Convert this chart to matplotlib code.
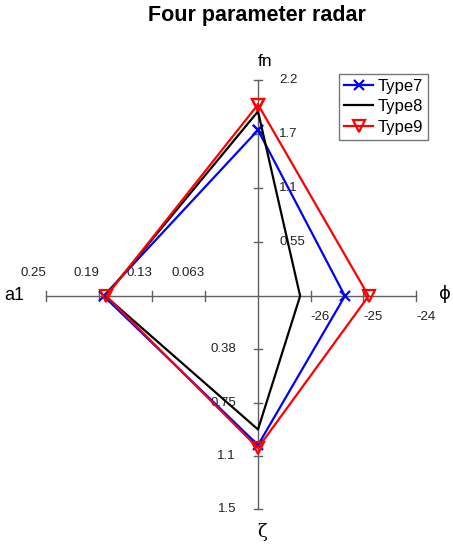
import numpy as np
import matplotlib
matplotlib.use("Agg")
import matplotlib.pyplot as plt

plt.rcParams["font.family"] = ["Liberation Sans", "DejaVu Sans"]

# axis names (up, right, down, left) and their scales
axis_names = ["fn", "\u03d5", "\u03b6", "a1"]
axis_min = [0.0, -27.0, 0.0, 0.0]
axis_max = [2.2, -24.0, 1.5, 0.25]
tick_vals = [[0.55, 1.1, 1.65, 2.2], [-26, -25, -24], [0.375, 0.75, 1.125, 1.5],
             [0.0625, 0.125, 0.1875, 0.25]]
tick_text = [["0.55", "1.1", "1.7", "2.2"], ["-26", "-25", "-24"],
             ["0.38", "0.75", "1.1", "1.5"], ["0.063", "0.13", "0.19", "0.25"]]

series = ["Type7", "Type8", "Type9"]
fn_vals = [1.69, 1.88, 1.95]
phi_vals = [-25.35, -26.2, -24.9]
zeta_vals = [1.05, 0.94, 1.07]
a1_vals = [0.182, 0.180, 0.179]

colors = ["#0000ff", "#000000", "#ff0000"]
markers = ["x", None, "v"]

# layout (pixel units)
W, H = 453, 550
cx, cy = 258, 296
axis_len = [216, 158, 213, 212]
dirs = [(0, -1), (1, 0), (0, 1), (-1, 0)]

fig = plt.figure(figsize=(W / 100, H / 100), dpi=100)
ax = fig.add_axes([0, 0, 1, 1])
ax.set_xlim(0, W)
ax.set_ylim(H, 0)
ax.axis("off")


def to_xy(k, v):
    f = (v - axis_min[k]) / (axis_max[k] - axis_min[k]) * axis_len[k]
    return cx + dirs[k][0] * f, cy + dirs[k][1] * f


axis_col = "#606060"
for k in range(4):
    ex, ey = to_xy(k, axis_max[k])
    ax.plot([cx, ex], [cy, ey], color=axis_col, lw=1.0, zorder=1)
    for tv, tt in zip(tick_vals[k], tick_text[k]):
        tx, ty = to_xy(k, tv)
        if dirs[k][0] == 0:
            ax.plot([tx - 4, tx + 4], [ty, ty], color=axis_col, lw=1.0, zorder=1)
        else:
            ax.plot([tx, tx], [ty - 5, ty + 5], color=axis_col, lw=1.0, zorder=1)
        if k == 0:
            ax.text(tx + 21, ty, tt, ha="left", va="center", fontsize=9.5, color="#222222")
        elif k == 1:
            ax.text(tx, ty + 21, tt, ha="left", va="center", fontsize=9.5, color="#222222")
        elif k == 2:
            ax.text(tx - 22, ty, tt, ha="right", va="center", fontsize=9.5, color="#222222")
        else:
            ax.text(tx, ty - 23, tt, ha="right", va="center", fontsize=9.5, color="#222222")

ax.text(265, 61, axis_names[0], ha="center", va="center", fontsize=12.5)
ax.text(445, 294, axis_names[1], ha="center", va="center", fontsize=13, family="DejaVu Sans")
ax.text(262, 532, axis_names[2], ha="center", va="center", fontsize=13, family="DejaVu Serif")
ax.text(14, 296, axis_names[3], ha="center", va="center", fontsize=13)

data = [fn_vals, phi_vals, zeta_vals, a1_vals]
for i, name in enumerate(series):
    pts = [to_xy(k, data[k][i]) for k in range(4)]
    xs = [p[0] for p in pts] + [pts[0][0]]
    ys = [p[1] for p in pts] + [pts[0][1]]
    if markers[i] == "v":
        ax.plot(xs, ys, color=colors[i], lw=1.6, marker="v", ms=8.5,
                mfc="none", mew=1.6, label=name, zorder=3 + i)
    elif markers[i] == "x":
        ax.plot(xs, ys, color=colors[i], lw=1.6, marker="x", ms=6.5,
                mew=1.6, label=name, zorder=3 + i)
    else:
        ax.plot(xs, ys, color=colors[i], lw=1.6, label=name, zorder=3 + i)

leg = ax.legend(loc="upper left", bbox_to_anchor=(339 / W, 1 - 74 / H),
                fontsize=12, frameon=True, fancybox=False, handlelength=1.75,
                handletextpad=0.25, borderpad=0.3, labelspacing=0.32,
                borderaxespad=0)
leg.get_frame().set_edgecolor("#555555")
leg.get_frame().set_linewidth(1.0)

ax.text(257, 16, "Four parameter radar", ha="center", va="center",
        fontsize=15.5, fontweight="bold")

fig.savefig("out.png", dpi=100)
